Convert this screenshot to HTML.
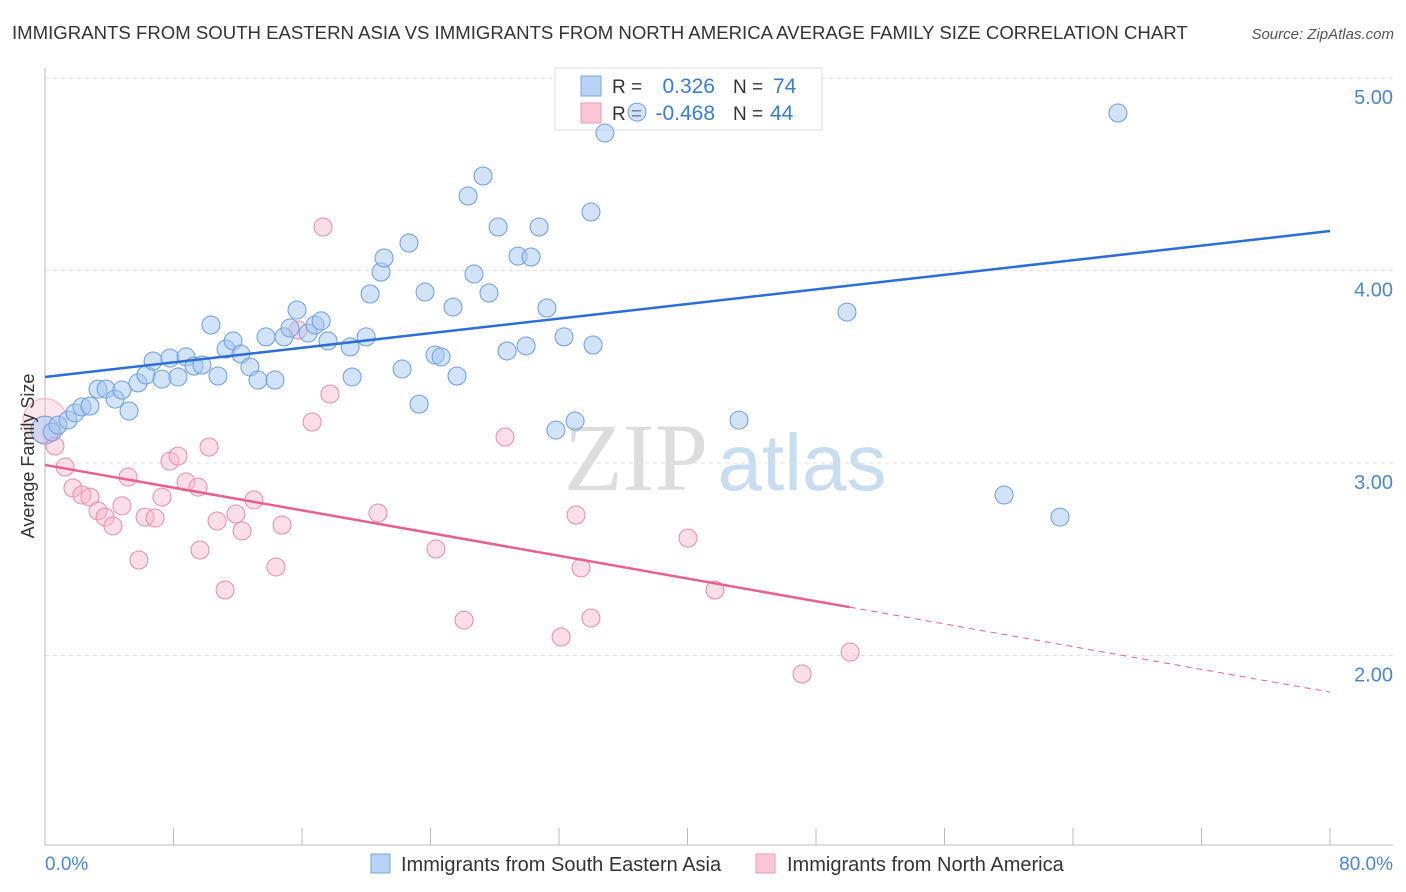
<!DOCTYPE html>
<html><head><meta charset="utf-8"><style>
body{margin:0;background:#fff;font-family:"Liberation Sans",sans-serif}
#c{position:absolute;left:0;top:0}
</style></head><body>
<svg id="c" width="1406" height="892" xmlns="http://www.w3.org/2000/svg" font-family="Liberation Sans, sans-serif">
<text x="12" y="39" font-size="18.6" fill="#333">IMMIGRANTS FROM SOUTH EASTERN ASIA VS IMMIGRANTS FROM NORTH AMERICA AVERAGE FAMILY SIZE CORRELATION CHART</text>
<text x="1394" y="39" font-size="15" fill="#555" font-style="italic" text-anchor="end">Source: ZipAtlas.com</text>
<g><text x="636" y="490" font-size="96" font-family="Liberation Serif, serif" fill="#ddd" text-anchor="middle">ZIP</text><text x="802" y="490" font-size="80" fill="#c8dcf2" text-anchor="middle">atlas</text></g>
<g id="grid"></g><g id="axes"></g>
<g>
<rect x="555" y="68" width="267" height="62" fill="#fff" stroke="#ddd"/>
<rect x="581" y="76" width="20" height="20" fill="#b8d2f4" stroke="#7aa6e6"/>
<rect x="581" y="103" width="20" height="20" fill="#f8c6d4" stroke="#eb9ab4"/>
<text x="612" y="93" font-size="19" fill="#333">R =</text><text x="715" y="93" font-size="21" fill="#3d7bd6" text-anchor="end">0.326</text>
<text x="733" y="93" font-size="19" fill="#333">N =</text><text x="773" y="93" font-size="21" fill="#3d7bd6">74</text>
<text x="612" y="120" font-size="19" fill="#333">R =</text><text x="715" y="120" font-size="21" fill="#3d7bd6" text-anchor="end">-0.468</text>
<text x="733" y="120" font-size="19" fill="#333">N =</text><text x="770" y="120" font-size="21" fill="#3d7bd6">44</text>
</g>
<g id="marks"></g>
<text transform="translate(34,456) rotate(-90)" font-size="18" fill="#333" text-anchor="middle">Average Family Size</text>
<text x="45" y="870" font-size="19" fill="#4a86d8">0.0%</text>
<text x="1393" y="870" font-size="19" fill="#4a86d8" text-anchor="end">80.0%</text>
<g>
<rect x="371" y="854" width="19" height="19" fill="#b8d2f4" stroke="#7aa6e6"/>
<text x="401" y="871" font-size="20" fill="#333">Immigrants from South Eastern Asia</text>
<rect x="756" y="854" width="19" height="19" fill="#f8c6d4" stroke="#eb9ab4"/>
<text x="787" y="871" font-size="20" fill="#333">Immigrants from North America</text>
</g>
</svg>
<script>
const yTicks=[2,3,4,5];
const yTickLabels=["2.00","3.00","4.00","5.00"];
const blueX=[0.44,0.81,1.43,1.87,2.30,2.80,3.30,3.80,4.36,4.79,5.23,5.79,6.29,6.73,7.28,7.78,8.28,8.78,9.28,9.77,10.33,10.77,11.27,11.71,12.20,12.76,13.26,13.76,14.32,14.88,15.25,15.69,16.38,16.81,17.19,17.62,19.00,19.12,19.99,20.24,20.92,21.11,22.23,22.66,23.29,23.66,24.28,24.66,25.40,25.65,26.34,26.71,27.27,27.64,28.21,28.77,29.45,29.95,30.26,30.76,31.25,31.81,32.31,33.00,33.99,34.12,34.86,36.86,43.21,49.93,59.71,63.19,66.80];
const blueY=[3.161,3.197,3.223,3.260,3.291,3.296,3.384,3.384,3.332,3.379,3.270,3.416,3.457,3.530,3.436,3.545,3.447,3.551,3.504,3.509,3.717,3.452,3.592,3.634,3.566,3.499,3.431,3.655,3.431,3.655,3.701,3.795,3.675,3.717,3.738,3.634,3.603,3.447,3.655,3.878,3.992,4.065,3.488,4.143,3.306,3.888,3.561,3.551,3.810,3.452,4.387,3.982,4.491,3.883,4.226,3.582,4.075,3.608,4.070,4.226,3.805,3.171,3.655,3.218,4.304,3.613,4.714,4.823,3.223,3.784,2.834,2.719,4.818];
const pinkX=[0.62,1.25,1.74,2.30,2.80,3.30,3.74,4.23,4.79,5.17,5.85,6.23,6.85,7.28,7.78,8.28,8.78,9.53,9.65,10.21,10.71,11.21,11.89,12.27,13.01,14.38,14.76,15.75,16.63,17.31,17.74,20.73,24.34,26.09,28.64,32.13,33.06,33.37,33.99,40.03,41.71,47.13,50.12];
const pinkY=[3.088,2.979,2.870,2.834,2.823,2.751,2.719,2.673,2.777,2.927,2.496,2.719,2.714,2.823,3.010,3.036,2.901,2.875,2.548,3.083,2.699,2.340,2.735,2.647,2.808,2.460,2.678,3.691,3.213,4.226,3.358,2.740,2.553,2.184,3.135,2.096,2.730,2.455,2.195,2.610,2.340,1.904,2.018];
const blueTrend=[3.447,4.205];
const pinkTrend=[2.990,1.810];
const pinkSolidEnd=50.1;
const sx=v=>45+v/80*1285, sy=v=>78+(5-v)*192.5;
const NS="http://www.w3.org/2000/svg";
function mk(p,t,a){const e=document.createElementNS(NS,t);for(const k in a)e.setAttribute(k,a[k]);p.appendChild(e);return e;}
const grid=document.getElementById('grid'),axes=document.getElementById('axes'),marks=document.getElementById('marks');
yTicks.forEach((t,i)=>{
 const l=mk(grid,'line',{x1:45,x2:1393,y1:sy(t),y2:sy(t),stroke:'#e2e2e2','stroke-dasharray':'4,4'});
 
 
 const tx=mk(axes,'text',{x:1393,y:sy(t)+26,'font-size':20,fill:'#4a86d8','text-anchor':'end'});tx.textContent=yTickLabels[i];
 
 
});
mk(axes,'line',{x1:45,x2:45,y1:68,y2:845,stroke:'#bbb'});
mk(axes,'line',{x1:45,x2:1393,y1:845,y2:845,stroke:'#bbb'});
for(let i=0;i<=10;i++){const t=mk(axes,'line',{x1:sx(i*8),x2:sx(i*8),y1:828,y2:845,stroke:'#bbb'});
 
 }
function dot(x,y,r,c){const e=mk(marks,'circle',{cx:sx(x),cy:sy(y),r:r,fill:c[0],stroke:c[1],'stroke-width':1});return e;}
const BC=['rgba(165,198,240,0.5)','#6b9de2'],PC=['rgba(246,182,202,0.45)','#e98bab'];
dot(0,3.22,22,['rgba(246,182,202,0.35)','rgba(233,139,171,0.6)']);
dot(0,3.171,14,BC);
pinkX.forEach((x,i)=>{const e=dot(x,pinkY[i],9,PC);
 
 });
blueX.forEach((x,i)=>{const e=dot(x,blueY[i],9,BC);
 
 });
const bl=mk(marks,'line',{x1:sx(0),y1:sy(blueTrend[0]),x2:sx(80),y2:sy(blueTrend[1]),stroke:'#2a6fd6','stroke-width':2.5});


const pe=pinkTrend[0]+(pinkTrend[1]-pinkTrend[0])*pinkSolidEnd/80;
const pl=mk(marks,'line',{x1:sx(0),y1:sy(pinkTrend[0]),x2:sx(pinkSolidEnd),y2:sy(pe),stroke:'#e8608e','stroke-width':2.5});


const pd=mk(marks,'line',{x1:sx(pinkSolidEnd),y1:sy(pe),x2:sx(80),y2:sy(pinkTrend[1]),stroke:'#e8608e','stroke-width':1,'stroke-dasharray':'6,5'});


</script>
</body></html>
